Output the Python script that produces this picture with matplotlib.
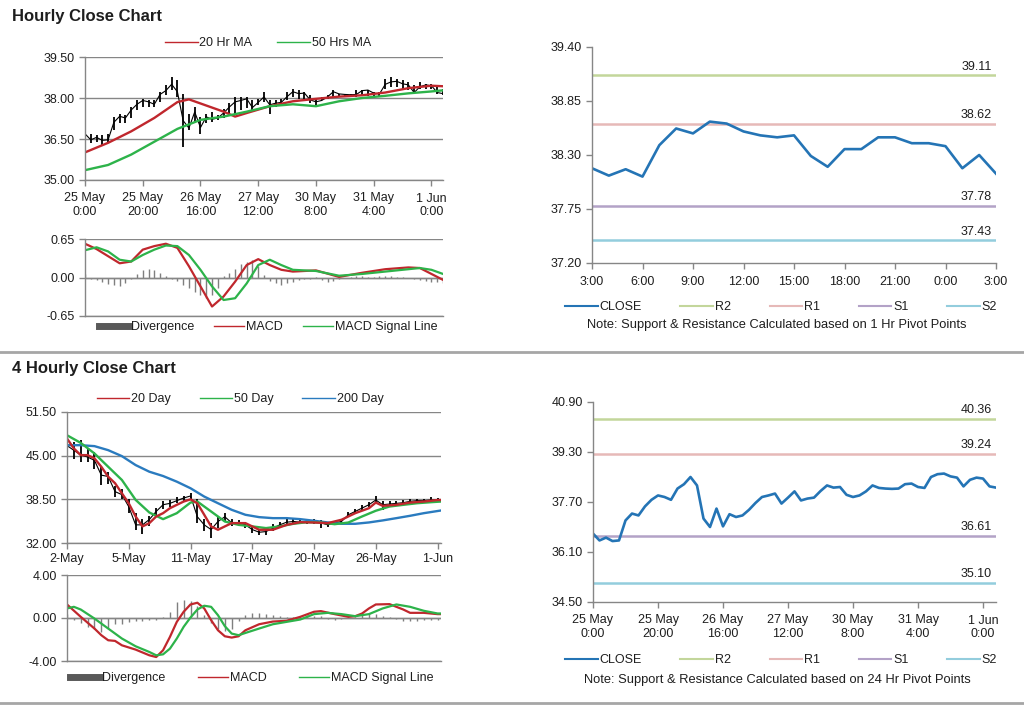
import matplotlib
matplotlib.use("Agg")
import matplotlib.pyplot as plt
from matplotlib.lines import Line2D

plt.rcParams["font.family"] = ["Liberation Sans", "DejaVu Sans"]
plt.rcParams["font.size"] = 9

W, H = 1024, 706

# ---------------- hourly data (25 May 0:00 -> 1 Jun), every 2 hours ----------------
hr_x = list(range(0, 125, 2))
hr_close = [36.69, 36.47, 36.56, 36.45, 36.47, 37.11, 37.33, 37.27, 37.56, 37.77,
            37.91, 37.86, 37.77, 38.13, 38.27, 38.50, 38.23, 37.17, 36.90, 37.49,
            36.92, 37.31, 37.22, 37.27, 37.45, 37.67, 37.86, 37.91, 37.97, 37.65,
            37.84, 38.04, 37.75, 37.81, 37.84, 38.05, 38.23, 38.16, 38.18, 37.93,
            37.86, 37.91, 38.04, 38.23, 38.15, 38.13, 38.12, 38.13, 38.27, 38.29,
            38.18, 38.15, 38.50, 38.59, 38.61, 38.52, 38.48, 38.20, 38.41, 38.48,
            38.45, 38.20, 38.16]
hr_high = [36.76, 36.70, 36.64, 36.64, 36.70, 37.31, 37.43, 37.37, 37.68, 37.92,
           37.98, 37.92, 37.92, 38.22, 38.47, 38.77, 38.65, 38.16, 37.43, 37.68,
           37.31, 37.43, 37.49, 37.37, 37.61, 37.80, 38.04, 38.04, 38.04, 37.92,
           37.98, 38.22, 37.92, 37.92, 37.98, 38.22, 38.34, 38.28, 38.22, 38.10,
           37.98, 38.04, 38.10, 38.28, 38.16, 38.10, 38.16, 38.28, 38.31, 38.28,
           38.22, 38.22, 38.71, 38.77, 38.71, 38.65, 38.59, 38.47, 38.59, 38.53,
           38.53, 38.41, 38.34]
hr_low = [36.52, 36.34, 36.40, 36.28, 36.34, 36.82, 37.07, 37.07, 37.25, 37.55,
          37.68, 37.68, 37.68, 37.86, 38.10, 38.28, 38.04, 36.22, 36.82, 37.07,
          36.70, 37.07, 37.13, 37.19, 37.25, 37.43, 37.43, 37.55, 37.62, 37.55,
          37.74, 37.86, 37.43, 37.68, 37.74, 37.92, 38.04, 37.98, 37.92, 37.80,
          37.74, 37.92, 37.98, 38.04, 38.04, 38.04, 38.04, 38.04, 38.10, 38.06,
          38.02, 38.04, 38.34, 38.41, 38.41, 38.34, 38.28, 38.22, 38.34, 38.34,
          38.34, 38.16, 38.10]

ma_x = [0, 8, 16, 24, 32, 36, 40, 48, 52, 56, 64, 72, 80, 88, 96, 104, 112, 120, 124]
ma20_hr = [36.01, 36.36, 36.78, 37.27, 37.85, 37.95, 37.80, 37.50, 37.32, 37.45,
           37.70, 37.88, 37.97, 38.05, 38.10, 38.20, 38.36, 38.45, 38.43]
ma50_x = [0, 8, 16, 24, 32, 40, 48, 56, 64, 72, 80, 88, 96, 104, 112, 120, 124]
ma50_hr = [35.36, 35.55, 35.93, 36.40, 36.87, 37.20, 37.32, 37.50, 37.70, 37.77,
           37.70, 37.88, 38.00, 38.08, 38.17, 38.24, 38.28]

macd_x = [0, 4, 8, 12, 16, 20, 24, 28, 32, 36, 40, 44, 48, 52, 56, 60, 64, 68, 72,
          80, 88, 96, 104, 112, 116, 120, 124]
macd_hr = [0.57, 0.48, 0.36, 0.24, 0.27, 0.47, 0.53, 0.57, 0.50, 0.19, -0.15, -0.49,
           -0.32, -0.07, 0.21, 0.31, 0.21, 0.13, 0.10, 0.12, 0.01, 0.08, 0.14, 0.17,
           0.16, 0.06, -0.04]
signal_hr = [0.46, 0.51, 0.44, 0.30, 0.27, 0.38, 0.47, 0.54, 0.53, 0.38, 0.13, -0.15,
             -0.38, -0.35, -0.10, 0.21, 0.30, 0.21, 0.13, 0.11, 0.03, 0.06, 0.10, 0.14,
             0.16, 0.13, 0.06]
div_hr = [0.06, -0.02, -0.05, -0.08, -0.11, -0.13, -0.14, -0.10, -0.03, 0.06,
          0.12, 0.15, 0.12, 0.07, 0.02, -0.02, -0.06, -0.12, -0.18, -0.24,
          -0.30, -0.35, -0.30, -0.18, 0.03, 0.08, 0.15, 0.22, 0.27, 0.30,
          0.20, 0.04, -0.06, -0.10, -0.12, -0.10, -0.07, -0.04, -0.02, -0.02,
          0.01, -0.04, -0.07, -0.06, -0.03, -0.01, 0.01, 0.02, 0.02, 0.01,
          0.01, 0.02, 0.02, 0.02, 0.01, 0.01, 0.00, -0.02, -0.04, -0.06,
          -0.07, -0.08, -0.09]

day_ticks = [0, 20, 40, 60, 80, 100, 120]
day_labels = ["25 May\n0:00", "25 May\n20:00", "26 May\n16:00", "27 May\n12:00",
              "30 May\n8:00", "31 May\n4:00", "1 Jun\n0:00"]

# ---------------- last 24 hours close ----------------
h24_close = [38.165, 38.09, 38.155, 38.08, 38.40, 38.57, 38.52, 38.64, 38.62, 38.54,
             38.50, 38.48, 38.50, 38.29, 38.18, 38.36, 38.36, 38.48, 38.48, 38.42,
             38.42, 38.39, 38.165, 38.30, 38.11]
h24_ticks = ["3:00", "6:00", "9:00", "12:00", "15:00", "18:00", "21:00", "0:00", "3:00"]
pivot_1h = {"R2": 39.11, "R1": 38.62, "S1": 37.78, "S2": 37.43}
pivot_24h = {"R2": 40.36, "R1": 39.24, "S1": 36.61, "S2": 35.10}

# ---------------- 4 hourly data (2 May -> 1 Jun), every 2 bars ----------------
h4_x = list(range(0, 109, 2))
h4_close = [46.5, 45.8, 45.1, 44.8, 44.3, 42.1, 41.9, 39.65, 39.2, 37.4,
            34.7, 34.7, 35.5, 36.7, 37.7, 37.9, 38.3, 38.7, 39.0, 35.9,
            34.7, 34.0, 35.2, 35.9, 35.0, 35.0, 34.7, 34.0, 33.6, 33.7,
            34.2, 34.7, 35.1, 35.2, 35.1, 35.1, 35.2, 35.0, 34.7, 35.0,
            35.2, 36.2, 36.7, 37.2, 37.7, 38.4, 37.7, 37.8, 37.9, 38.0,
            38.2, 38.3, 38.3, 38.4, 38.4]
h4_high = [48.0, 47.0, 47.3, 46.0, 45.5, 43.5, 42.5, 40.5, 40.0, 38.5,
           36.5, 35.5, 36.0, 37.2, 38.3, 38.4, 38.8, 39.0, 39.4, 38.5,
           35.5, 35.0, 35.8, 36.5, 35.6, 35.4, 35.2, 34.5, 34.0, 34.2,
           34.8, 35.1, 35.5, 35.6, 35.5, 35.5, 35.6, 35.4, 35.1, 35.3,
           35.6, 36.6, 37.1, 37.6, 38.1, 39.0, 38.2, 38.2, 38.3, 38.4,
           38.5, 38.6, 38.6, 38.8, 38.7]
h4_low = [42.5, 44.5, 44.0, 44.0, 43.0, 40.6, 40.8, 38.8, 38.5, 36.5,
          34.0, 33.3, 34.5, 35.8, 37.0, 37.4, 37.9, 38.2, 38.6, 35.0,
          33.8, 32.8, 34.3, 35.2, 34.5, 34.5, 34.2, 33.5, 33.2, 33.2,
          33.8, 34.3, 34.7, 34.9, 34.8, 34.8, 34.8, 34.3, 34.4, 34.7,
          34.9, 35.8, 36.3, 36.8, 37.3, 38.0, 36.9, 37.4, 37.6, 37.7,
          37.9, 38.0, 38.0, 38.1, 38.1]

ma20_4h_x = [0, 2, 4, 6, 8, 10, 12, 14, 16, 18, 20, 22, 24, 26, 28, 30, 32, 34, 36,
             38, 40, 42, 44, 46, 48, 52, 56, 60, 64, 68, 72, 76, 80, 84, 88, 90, 92,
             96, 100, 104, 108, 109]
ma20_4h = [47.55, 46.07, 45.08, 45.08, 44.6, 43.35, 41.87, 40.9, 39.4, 37.9, 35.95,
           34.47, 34.96, 35.95, 36.44, 37.18, 37.68, 38.17, 38.5, 37.9, 36.2, 34.47,
           33.97, 34.47, 34.96, 34.96, 33.97, 33.97, 34.7, 35.1, 35.05, 34.96, 35.46,
           36.44, 37.18, 38.02, 37.53, 37.68, 38.02, 38.17, 38.4, 38.4]
ma50_4h_x = [0, 4, 8, 12, 16, 20, 24, 28, 32, 36, 38, 42, 46, 50, 54, 58, 62, 66, 70,
             74, 78, 82, 86, 90, 94, 98, 102, 106, 109]
ma50_4h = [48.04, 46.9, 45.33, 43.35, 41.38, 38.42, 36.54, 35.55, 36.44, 38.02, 38.17,
           36.69, 35.2, 34.7, 34.47, 34.22, 34.47, 34.86, 35.1, 35.05, 34.8, 35.05,
           35.95, 36.8, 37.43, 37.68, 37.92, 38.07, 38.17]
ma200_4h_x = [0, 4, 8, 12, 16, 20, 24, 28, 32, 36, 40, 44, 48, 52, 56, 60, 64, 68, 72,
              76, 80, 84, 88, 92, 96, 100, 104, 109]
ma200_4h = [46.56, 46.56, 46.42, 45.82, 44.93, 43.6, 42.61, 41.97, 41.13, 40.15, 38.91,
            37.92, 36.94, 36.2, 35.85, 35.7, 35.7, 35.55, 35.31, 35.06, 34.86, 34.86,
            35.06, 35.36, 35.7, 36.05, 36.44, 36.84]

macd4_x = [0, 4, 8, 10, 12, 14, 16, 20, 24, 26, 28, 30, 32, 34, 36, 38, 40, 42, 44,
           46, 48, 50, 52, 56, 60, 64, 68, 72, 74, 78, 82, 84, 86, 88, 90, 94, 96,
           98, 100, 104, 108, 109]
macd_4h = [1.26, 0.11, -0.98, -1.60, -2.07, -2.13, -2.54, -2.94, -3.47, -3.63, -3.00,
           -1.76, -0.36, 0.58, 1.26, 1.42, 0.89, -0.20, -1.14, -1.70, -1.82, -1.70,
           -1.14, -0.58, -0.33, -0.26, 0.11, 0.58, 0.64, 0.36, 0.11, 0.17, 0.42, 0.89,
           1.26, 1.29, 1.04, 0.79, 0.48, 0.48, 0.36, 0.36]
sig4_x = [0, 2, 4, 8, 12, 16, 20, 24, 26, 28, 30, 32, 34, 36, 38, 40, 42, 44, 46, 48,
          50, 52, 56, 60, 64, 68, 72, 76, 80, 84, 88, 92, 96, 100, 104, 108, 109]
signal_4h = [0.89, 1.04, 0.79, -0.05, -0.98, -1.91, -2.63, -3.16, -3.47, -3.38, -2.85,
             -1.91, -0.82, 0.05, 0.79, 1.14, 1.04, 0.26, -0.76, -1.45, -1.60, -1.39,
             -0.98, -0.58, -0.36, -0.14, 0.36, 0.48, 0.36, 0.17, 0.36, 0.89, 1.26,
             1.04, 0.67, 0.42, 0.42]
div_4h = [0.37, -0.2, -0.5, -0.8, -1.0, -1.3, -0.9, -0.6, -0.55, -0.35,
          -0.3, -0.25, -0.2, -0.15, 0.1, 0.6, 1.5, 1.7, 1.6, 1.1,
          0.3, -0.5, -1.0, -1.2, -1.0, -0.3, 0.3, 0.5, 0.5, 0.4,
          0.25, 0.15, 0.1, 0.1, 0.2, 0.25, 0.2, 0.15, -0.1, -0.15,
          -0.1, 0.05, 0.1, 0.3, 0.45, 0.4, 0.2, 0.05, -0.1, -0.25,
          -0.3, -0.25, -0.2, -0.2, -0.15]

week_ticks = [0, 18, 36, 54, 72, 90, 108]
week_labels = ["2-May", "5-May", "11-May", "17-May", "20-May", "26-May", "1-Jun"]

# ---------------- styling ----------------
RED = "#c0272d"
GREEN = "#2db34a"
BLUE = "#2a7bbf"
CLOSE_BLUE = "#2474b5"
GRAY = "#868686"
DIV_GRAY = "#7f7f7f"
TXT = "#1e1e1e"
LEVEL_COLORS = {"R2": "#c3d69b", "R1": "#e6b9b8", "S1": "#b3a2c7", "S2": "#93cddd"}

fig = plt.figure(figsize=(W / 100, H / 100), dpi=100)
fig.patch.set_facecolor("white")


def add_ax(x0, y0, x1, y1):
    # pixel box -> figure fraction
    return fig.add_axes([x0 / W, 1 - y1 / H, (x1 - x0) / W, (y1 - y0) / H])


def style(ax, grid=True):
    for s in ["top", "right"]:
        ax.spines[s].set_visible(False)
    for s in ["left", "bottom"]:
        ax.spines[s].set_color(GRAY)
        ax.spines[s].set_linewidth(1.0)
    ax.tick_params(axis="both", colors=GRAY, labelcolor=TXT, length=4,
                   width=1.0, direction="out", labelsize=9)
    ax.tick_params(axis="x", pad=5)
    if grid:
        ax.yaxis.grid(True, color=GRAY, linewidth=1.0)
        ax.set_axisbelow(True)


def fig_legend(handles, labels, cx, cy, spacing=2.5, hl=2.6):
    fig.legend(handles, labels, loc="center", bbox_to_anchor=(cx / W, 1 - cy / H),
               ncol=len(handles), frameon=False, handlelength=hl,
               columnspacing=spacing, handletextpad=0.15, fontsize=9,
               labelcolor=TXT)


# ===== Titles and separators =====
fig.text(12 / W, 1 - 16 / H, "Hourly Close Chart", fontsize=12, fontweight="bold",
         va="center", ha="left", color=TXT)
fig.text(12 / W, 1 - 369 / H, "4 Hourly Close Chart", fontsize=12, fontweight="bold",
         va="center", ha="left", color=TXT)
for yy in (352, 703):
    fig.add_artist(Line2D([0, 1], [1 - yy / H] * 2, color="#a6a6a6", linewidth=2.0))

# ===== Top-left: hourly price =====
ax = add_ax(85, 57, 443, 180)
style(ax)
ax.vlines(hr_x, hr_low, hr_high, color="black", linewidth=1.3)
ax.plot(hr_x, hr_close, color="black", linewidth=0.8)
ax.plot(ma_x, ma20_hr, color=RED, linewidth=1.7)
ax.plot(ma50_x, ma50_hr, color=GREEN, linewidth=1.7)
ax.set_xlim(0, 124)
ax.set_ylim(35.0, 39.5)
ax.set_yticks([35.0, 36.5, 38.0, 39.5])
ax.set_yticklabels(["35.00", "36.50", "38.00", "39.50"])
ax.set_xticks(day_ticks)
ax.set_xticklabels(day_labels, linespacing=1.15)
fig_legend([Line2D([], [], color=RED, lw=1), Line2D([], [], color=GREEN, lw=1)],
           ["20 Hr MA", "50 Hrs MA"], 268, 43, spacing=2.0)

# ===== Top-left: hourly MACD =====
ax = add_ax(85, 239, 443, 316)
style(ax)
ax.vlines(hr_x, 0, div_hr, color=DIV_GRAY, linewidth=1.0)
ax.axhline(0, color=GRAY, linewidth=1.0)
ax.plot(macd_x, macd_hr, color=RED, linewidth=1.6)
ax.plot(macd_x, signal_hr, color=GREEN, linewidth=1.6)
ax.set_xlim(0, 124)
ax.set_ylim(-0.65, 0.65)
ax.set_yticks([-0.65, 0.0, 0.65])
ax.set_yticklabels(["-0.65", "0.00", "0.65"])
ax.set_xticks([])
fig_legend([Line2D([], [], color="#595959", lw=5), Line2D([], [], color=RED, lw=1),
            Line2D([], [], color=GREEN, lw=1)],
           ["Divergence", "MACD", "MACD Signal Line"], 268, 327, spacing=1.6, hl=2.4)


def pivot_panel(box, xs, close, levels, ylim, yticks, xticks, xlabels, xmax,
                note, note_y, leg_y):
    ax = add_ax(*box)
    style(ax, grid=False)
    for name, val in levels.items():
        ax.plot([0, xmax], [val, val], color=LEVEL_COLORS[name], linewidth=1.8)
        ax.annotate(f"{val:.2f}", xy=(xmax, val), xytext=(-3, 2),
                    textcoords="offset points", ha="right", va="bottom",
                    fontsize=9, color=TXT)
    ax.plot(xs, close, color=CLOSE_BLUE, linewidth=1.9)
    ax.set_xlim(0, xmax)
    ax.set_ylim(*ylim)
    ax.set_yticks(yticks)
    ax.set_yticklabels([f"{v:.2f}" for v in yticks])
    ax.set_xticks(xticks)
    ax.set_xticklabels(xlabels, linespacing=1.15)
    handles = [Line2D([], [], color=CLOSE_BLUE, lw=1.5)] + \
              [Line2D([], [], color=LEVEL_COLORS[n], lw=1.5) for n in levels]
    fig_legend(handles, ["CLOSE"] + list(levels.keys()), 781, leg_y, spacing=3.1,
               hl=2.6)
    fig.text(777 / W, 1 - note_y / H, note, ha="center", va="center", fontsize=9.3,
             color=TXT)
    return ax


# ===== Top-right: last 24 hours =====
pivot_panel((592, 47, 996, 263), list(range(len(h24_close))), h24_close, pivot_1h,
            (37.20, 39.40), [37.20, 37.75, 38.30, 38.85, 39.40],
            list(range(0, 25, 3)), h24_ticks, 24,
            "Note: Support & Resistance Calculated based on 1 Hr Pivot Points", 325, 307)

# ===== Bottom-left: 4 hourly price =====
ax = add_ax(67, 412, 441, 543)
style(ax)
ax.vlines(h4_x, h4_low, h4_high, color="black", linewidth=1.3)
ax.plot(h4_x, h4_close, color="black", linewidth=0.8)
ax.plot(ma200_4h_x, ma200_4h, color=BLUE, linewidth=1.7)
ax.plot(ma50_4h_x, ma50_4h, color=GREEN, linewidth=1.7)
ax.plot(ma20_4h_x, ma20_4h, color=RED, linewidth=1.7)
ax.set_xlim(0, 109)
ax.set_ylim(32.0, 51.5)
ax.set_yticks([32.0, 38.5, 45.0, 51.5])
ax.set_yticklabels(["32.00", "38.50", "45.00", "51.50"])
ax.set_xticks(week_ticks)
ax.set_xticklabels(week_labels)
ax.tick_params(axis="x", pad=3)
fig_legend([Line2D([], [], color=RED, lw=1), Line2D([], [], color=GREEN, lw=1),
            Line2D([], [], color=BLUE, lw=1)],
           ["20 Day", "50 Day", "200 Day"], 240, 399, spacing=2.3)

# ===== Bottom-left: 4 hourly MACD =====
ax = add_ax(67, 575, 441, 661)
style(ax)
ax.vlines(h4_x, 0, div_4h, color=DIV_GRAY, linewidth=1.0)
ax.axhline(0, color=GRAY, linewidth=1.0)
ax.plot(macd4_x, macd_4h, color=RED, linewidth=1.6)
ax.plot(sig4_x, signal_4h, color=GREEN, linewidth=1.6)
ax.set_xlim(0, 109)
ax.set_ylim(-4.0, 4.0)
ax.set_yticks([-4.0, 0.0, 4.0])
ax.set_yticklabels(["-4.00", "0.00", "4.00"])
ax.set_xticks([])
fig_legend([Line2D([], [], color="#595959", lw=5), Line2D([], [], color=RED, lw=1),
            Line2D([], [], color=GREEN, lw=1)],
           ["Divergence", "MACD", "MACD Signal Line"], 252, 678, spacing=2.6, hl=2.4)

# ===== Bottom-right: hourly vs 24h pivots =====
pivot_panel((593, 402, 996, 602), hr_x, hr_close, pivot_24h,
            (34.50, 40.90), [34.50, 36.10, 37.70, 39.30, 40.90],
            day_ticks, day_labels, 124,
            "Note: Support & Resistance Calculated based on 24 Hr Pivot Points", 680, 660)

fig.savefig("out.png", dpi=100)
